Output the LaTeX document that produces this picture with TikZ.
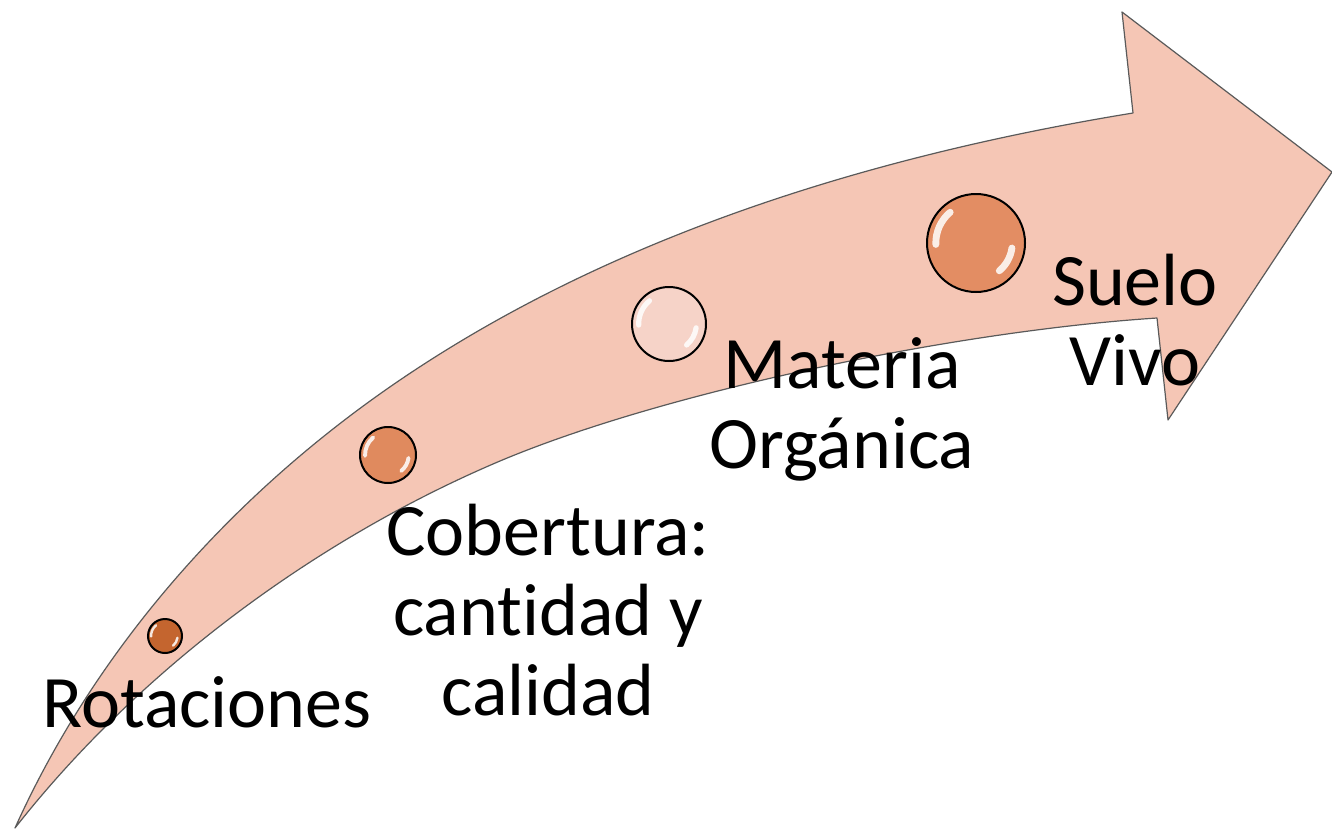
\documentclass[tikz,border=0pt]{standalone}
\usepackage{fontspec}
\setmainfont{Carlito}[RawFeature=-liga]
\definecolor{arrowfill}{HTML}{F5C6B5}
\definecolor{arrowline}{HTML}{5A5A5A}
\definecolor{bubA}{HTML}{C4652F}
\definecolor{bubB}{HTML}{E08A5E}
\definecolor{bubC}{HTML}{F6D3C8}
\definecolor{bubD}{HTML}{E38D63}
\tikzset{
  bubble/.style={circle,draw=black,line width=1pt,inner sep=0pt},
  hilite/.style={white,opacity=0.85,line cap=round},
  lbl/.style={font=\fontsize{37}{40}\selectfont,align=center,inner sep=0pt,anchor=base}
}
\begin{document}
\begin{tikzpicture}[x=0.5pt,y=-0.5pt]
  \useasboundingbox (0,0) rectangle (1332,830);
  % curved arrow
  \draw[fill=arrowfill,draw=arrowline,line width=0.6pt,line join=round]
    (15,828) .. controls (97,646) and (235,492) .. (400,380)
    .. controls (615,234) and (876,155) .. (1133,113)
    -- (1122,12) -- (1332,172) -- (1168,420) -- (1157,318)
    .. controls (957,331) and (666,391) .. (500,461)
    .. controls (316,539) and (139,670) .. cycle;
  % bubbles along the arrow
  \foreach \name/\cx/\cy/\r/\col in {rot/165/636/17/bubA, cob/388/455/28/bubB,
      mat/669/324/37/bubC, suelo/976/243/49/bubD}{
    \node[bubble,fill=\col,minimum size=\r pt] (\name) at (\cx,\cy) {};
    \draw[hilite,line width=0.07*\r pt] (\name.center) ++(-130:0.82*\r)
      arc[start angle=-130,end angle=-182,radius=0.82*\r];
    \draw[hilite,line width=0.07*\r pt] (\name.center) ++(8:0.74*\r)
      arc[start angle=8,end angle=50,radius=0.74*\r];
  }
  % labels (anchor = baseline of last line)
  \node[lbl] (rotTxt) at (207,727) {Rotaciones};
  \node[lbl] (cobTxt) at (548,715) {Cobertura:\\cantidad y\\calidad};
  \node[lbl] (matTxt) at (842,468) {Materia\\Orgánica};
  \node[lbl] (sueloTxt) at (1135,385) {Suelo\\Vivo};
\end{tikzpicture}
\end{document}
